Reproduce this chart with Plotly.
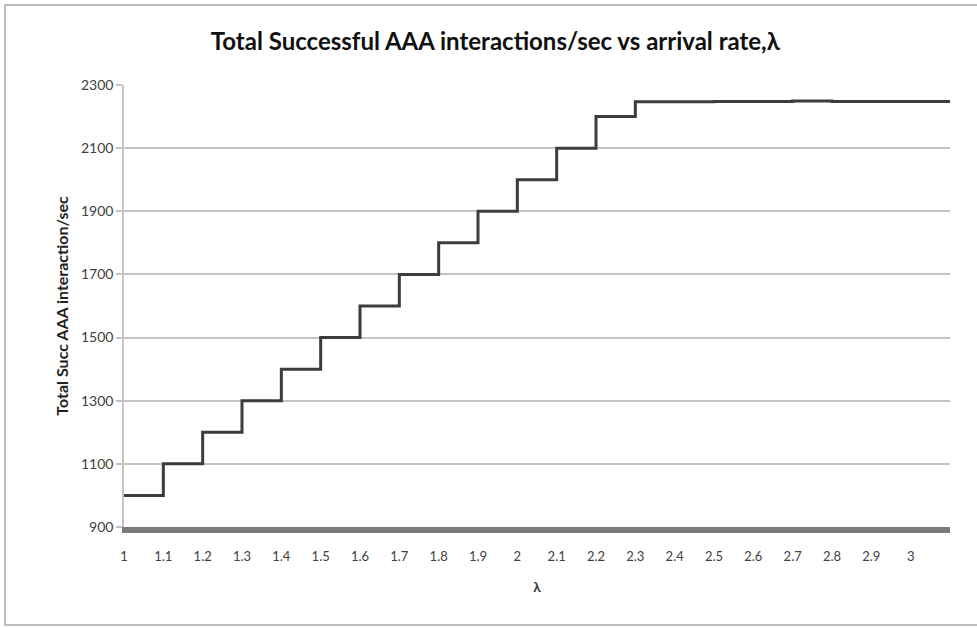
import plotly.graph_objects as go

# Data: arrival rate (lambda) and total successful AAA interactions/sec (step values)
lam = [1.0, 1.1, 1.2, 1.3, 1.4, 1.5, 1.6, 1.7, 1.8, 1.9, 2.0, 2.1, 2.2, 2.3,
       2.4, 2.5, 2.6, 2.7, 2.8, 2.9, 3.0, 3.1]
succ = [1000, 1100, 1200, 1300, 1400, 1500, 1600, 1700, 1800, 1900, 2000, 2100, 2200, 2247,
        2247, 2248, 2248, 2249, 2248, 2248, 2248, 2248]

x_ticks = [1.0, 1.1, 1.2, 1.3, 1.4, 1.5, 1.6, 1.7, 1.8, 1.9, 2.0, 2.1, 2.2, 2.3,
           2.4, 2.5, 2.6, 2.7, 2.8, 2.9, 3.0]
x_tick_labels = ["1", "1.1", "1.2", "1.3", "1.4", "1.5", "1.6", "1.7", "1.8", "1.9", "2",
                 "2.1", "2.2", "2.3", "2.4", "2.5", "2.6", "2.7", "2.8", "2.9", "3"]
y_ticks = [900, 1100, 1300, 1500, 1700, 1900, 2100, 2300]

font_family = "Lato, Roboto, sans-serif"

fig = go.Figure()
fig.add_trace(go.Scatter(
    x=lam, y=succ, mode="lines", line=dict(color="#3c3c3c", width=3, shape="hv"),
    showlegend=False, hoverinfo="x+y"))

fig.update_layout(
    width=977, height=628,
    margin=dict(l=124, r=27, t=85, b=101),
    paper_bgcolor="white", plot_bgcolor="white",
    title=dict(text="<b>Total Successful AAA interactions/sec vs arrival rate,λ</b>",
               x=0.507, xref="container", xanchor="center",
               y=1 - 42 / 628, yref="container", yanchor="middle",
               font=dict(family=font_family, size=24, color="#111111")),
    xaxis=dict(range=[1.0, 3.1], tickmode="array", tickvals=x_ticks, ticktext=x_tick_labels,
               automargin=False,
               showgrid=False, zeroline=False, showline=True, linecolor="#7a7a7a", linewidth=6,
               ticks="", tickfont=dict(family=font_family, size=13, color="#404040"),
               ticklabelstandoff=12,
               title=dict(text="<b>λ</b>", font=dict(family=font_family, size=14, color="#404040"),
                          standoff=22)),
    yaxis=dict(range=[900, 2300], tickmode="array", tickvals=y_ticks, automargin=False,
               showgrid=True, gridcolor="#c4c4c4", gridwidth=1.5, zeroline=False,
               showline=True, linecolor="#c4c4c4", linewidth=1.5,
               ticks="outside", ticklen=6, tickcolor="#c4c4c4", tickwidth=1.5,
               tickfont=dict(family=font_family, size=14, color="#404040"),
               title=dict(text="<b>Total Succ AAA interaction/sec</b>",
                          font=dict(family=font_family, size=16, color="#222222"),
                          standoff=8)),
    shapes=[dict(type="rect", xref="paper", yref="paper",
                 x0=(5 - 124) / 826, x1=(990 - 124) / 826,
                 y0=(527 - 625) / 442, y1=(527 - 5) / 442,
                 line=dict(color="#a8a8a8", width=1.5), fillcolor="rgba(0,0,0,0)", layer="below")],
)

fig.write_html("out.html", config={"displayModeBar": False})

# Remove the browser's default body margin so the figure sits at the page origin
with open("out.html", "r", encoding="utf-8") as f:
    html = f.read()
html = html.replace("<body>", '<body style="margin:0;padding:0;overflow:hidden">', 1)
with open("out.html", "w", encoding="utf-8") as f:
    f.write(html)
